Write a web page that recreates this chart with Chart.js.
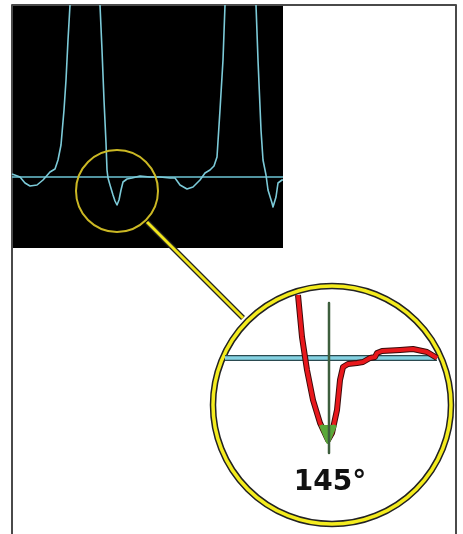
<!DOCTYPE html>
<html>
<head>
<meta charset="utf-8">
<script src="https://cdn.jsdelivr.net/npm/chart.js@4"></script>
<style>
  html, body { margin: 0; padding: 0; background: #fff; }
  canvas { display: block; }
</style>
</head>
<body>
<canvas id="chart" width="463" height="534"></canvas>
<script>
// Trace on the scope screen (x, y in picture units, y grows downward)
const waveX = [12, 20, 25, 30, 37, 43, 50, 55, 58, 61, 64, 66, 68, 70, 85,
    100, 102, 104, 106, 107, 108, 110, 113, 115, 117, 119, 121, 123, 127, 132, 140, 150, 160, 170, 175,
    180, 187, 193, 200, 205, 210, 214, 217, 220, 223, 225, 240,
    256, 258, 261, 263, 266, 268, 272, 273, 276, 278, 282, 283];
const waveY = [174, 177, 183, 186, 185, 180, 172, 169, 160, 145, 110, 80, 40, 5, null,
    5, 50, 100, 143, 170, 178, 185, 195, 201, 205, 200, 190, 182, 179, 178, 176, 177, 177, 178, 178,
    185, 189, 187, 180, 173, 170, 166, 157, 110, 60, 5, null,
    5, 60, 130, 160, 175, 190, 203, 207, 197, 183, 180, 180];

// Magnified trace inside the big circle
const zoomX = [298, 302, 307, 313, 320, 328, 332, 337, 340, 343, 348, 357, 363, 370, 375, 377, 382, 400, 413, 427, 437];
const zoomY = [295, 337, 370, 400, 423, 440, 433, 410, 380, 367, 364, 363, 362, 358, 357, 353, 351, 350, 349, 352, 358];

// Tip of the angle (green part)
const tipX = [321, 328, 335];
const tipY = [425, 442, 425];

const screenX = [12, 283];
const screenTop = 5;
const screenBottom = 248;
const baselineY = 177;
const zoomBaseX = [225, 437];
const zoomBaseY = 358;
const axisX = 329;
const axisY = [303, 453];
const frameX = [12, 12, 456, 456];
const frameY = [534, 5, 5, 534];
const lensSmall = { x: 117, y: 191 };
const lensBig = { x: 332, y: 405 };
const connectorX = [147, 243];
const connectorY = [222, 318];
const angleLabel = '145°';

const pts = (xs, ys) => xs.map((x, i) => ({ x: x, y: Array.isArray(ys) ? ys[i] : ys }));

const labelPlugin = {
    id: 'angleLabel',
    afterDatasetsDraw(chart) {
        const ctx = chart.ctx;
        const x = chart.scales.x.getPixelForValue(330);
        const y = chart.scales.y.getPixelForValue(490);
        ctx.save();
        ctx.fillStyle = '#111';
        ctx.font = 'bold 28px "DejaVu Sans", sans-serif';
        ctx.textAlign = 'center';
        ctx.textBaseline = 'alphabetic';
        ctx.fillText(angleLabel, x, y);
        ctx.restore();
    }
};

const line = (data, color, width, order, extra) => Object.assign({
    data: data,
    borderColor: color,
    borderWidth: width,
    pointRadius: 0,
    fill: false,
    order: order,
    borderJoinStyle: 'round',
    borderCapStyle: 'butt'
}, extra || {});

const ring = (center, radius, color, width, order) => ({
    data: [center],
    showLine: false,
    clip: false,
    pointRadius: radius,
    pointBorderColor: color,
    pointBorderWidth: width,
    pointBackgroundColor: 'rgba(0,0,0,0)',
    order: order
});

new Chart(document.getElementById('chart'), {
    type: 'line',
    data: {
        datasets: [
            line(pts(screenX, screenBottom), 'rgba(0,0,0,0)', 0, 30, { fill: { value: screenTop }, backgroundColor: '#000' }),
            line(pts(frameX, frameY), '#4a4a4a', 2, 29),
            line(pts(screenX, baselineY), '#6cc4d4', 1.5, 28),
            line(pts(waveX, waveY), '#7ccad8', 1.6, 27),
            ring(lensSmall, 41, '#cbb824', 2, 26),
            line(pts(connectorX, connectorY), '#222', 5.5, 25),
            line(pts(connectorX, connectorY), '#f2e61c', 3, 24),
            ring(lensBig, 119, '#222', 6.5, 23),
            ring(lensBig, 119, '#f4ec1e', 3.5, 22),
            line(pts(zoomBaseX, zoomBaseY), '#2a4a50', 6, 21),
            line(pts(zoomBaseX, zoomBaseY), '#84d2e2', 3.5, 20),
            line(pts(zoomX, zoomY), '#3a0a0a', 6, 19),
            line(pts(zoomX, zoomY), '#e8181c', 4, 18),
            line(pts(tipX, tipY), '#5aa83a', 4, 17, { fill: { value: 425 }, backgroundColor: '#5aa83a' }),
            line(pts([axisX, axisX], axisY), '#3d5e3d', 2.5, 16)
        ]
    },
    options: {
        responsive: false,
        animation: false,
        events: [],
        layout: { padding: 0, autoPadding: false },
        scales: {
            x: { type: 'linear', min: 0, max: 463, display: false },
            y: { type: 'linear', min: 0, max: 534, reverse: true, display: false }
        },
        plugins: {
            legend: { display: false },
            tooltip: { enabled: false }
        }
    },
    plugins: [labelPlugin]
});
</script>
</body>
</html>
